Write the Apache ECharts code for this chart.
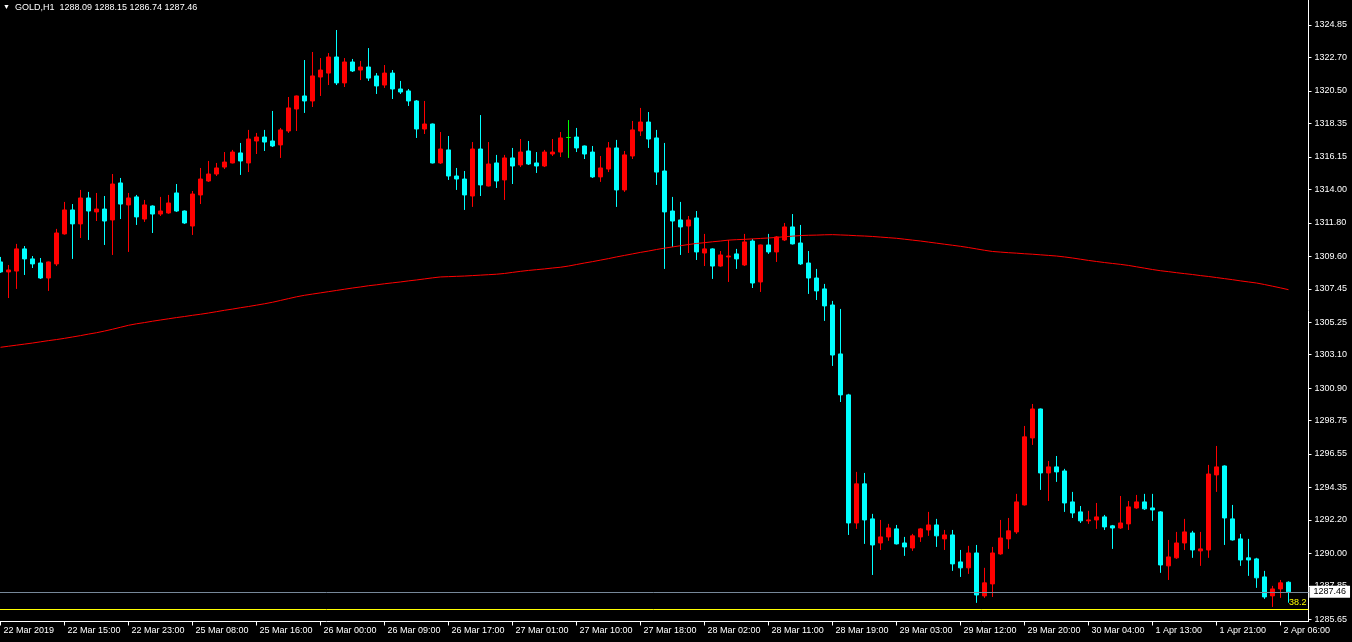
<!DOCTYPE html>
<html>
<head>
<meta charset="utf-8">
<script src="https://cdn.jsdelivr.net/npm/echarts@6/dist/echarts.min.js"></script>
<style>
html,body{margin:0;padding:0;background:#000;}
#chart{width:1352px;height:642px;}
</style>
</head>
<body>
<div id="chart"></div>
<script>
const symbolName = 'GOLD,H1';

const opens = [
1309.22,1308.56,1308.62,1310.08,1309.42,1309.15,1308.16,1309.09,1311.07,1312.65,
1311.73,1313.44,1312.52,1312.71,1311.99,1314.43,1312.98,1313.51,1312.05,1312.91,
1312.38,1312.45,1313.77,1312.58,1311.59,1313.64,1314.56,1315.02,1315.48,1315.75,
1316.41,1315.75,1317.20,1317.46,1317.20,1316.94,1317.86,1319.31,1320.17,1319.84,
1321.42,1321.68,1322.74,1321.03,1322.41,1321.88,1322.08,1321.49,1320.89,1321.68,
1320.63,1320.50,1319.84,1317.99,1318.32,1315.75,1316.61,1314.89,1314.69,1313.57,
1316.67,1314.23,1315.75,1314.63,1316.08,1315.62,1316.54,1315.75,1315.55,1316.34,
1316.47,1317.43,1317.46,1316.87,1316.47,1314.83,1315.35,1316.74,1313.97,1316.21,
1317.86,1318.45,1317.40,1315.22,1312.58,1311.99,1311.59,1312.12,1309.81,1310.08,
1308.95,1309.55,1309.75,1309.02,1310.60,1307.90,1310.34,1309.88,1310.67,1311.53,
1310.47,1309.15,1308.16,1307.44,1306.38,1303.15,1300.45,1292.00,1294.58,1292.27,
1290.68,1291.08,1291.61,1290.68,1290.35,1291.08,1291.54,1291.87,1290.95,1291.21,
1289.43,1289.04,1290.02,1287.19,1287.98,1289.96,1290.95,1291.41,1293.19,1297.61,
1299.52,1295.30,1295.70,1295.43,1293.39,1292.73,1292.14,1292.20,1292.40,1291.81,
1291.67,1291.94,1292.99,1293.39,1292.99,1292.73,1289.17,1289.70,1290.68,1291.34,
1290.16,1290.22,1295.17,1295.76,1292.27,1290.95,1289.70,1289.63,1288.44,1287.19,
1287.65,1288.09
];

const highs = [
1309.55,1309.02,1310.41,1310.27,1309.61,1309.48,1309.25,1311.40,1313.18,1313.04,
1313.97,1313.84,1313.77,1313.57,1315.02,1314.76,1313.77,1313.64,1313.31,1312.95,
1313.51,1313.64,1314.36,1312.62,1313.90,1315.42,1315.88,1315.75,1316.47,1316.61,
1317.07,1317.93,1317.73,1317.93,1319.18,1318.06,1320.10,1320.20,1322.54,1323.07,
1322.67,1323.00,1324.52,1322.67,1322.61,1322.48,1323.33,1321.68,1322.21,1321.88,
1321.16,1320.63,1319.90,1319.84,1318.35,1317.79,1317.53,1315.42,1315.22,1317.13,
1318.91,1317.13,1316.28,1316.28,1316.74,1317.33,1317.20,1316.47,1316.61,1317.33,
1317.79,1318.58,1318.06,1316.90,1316.87,1316.21,1317.13,1317.27,1316.54,1318.52,
1319.38,1319.11,1317.93,1317.07,1313.51,1313.18,1312.25,1312.58,1311.07,1310.12,
1309.94,1310.67,1310.08,1311.07,1310.74,1310.37,1311.07,1310.93,1311.79,1312.38,
1311.66,1309.94,1308.76,1307.77,1306.65,1306.12,1300.52,1295.37,1295.30,1292.60,
1292.20,1291.94,1291.87,1291.08,1291.28,1291.67,1292.73,1292.27,1291.54,1291.54,
1290.22,1290.49,1290.55,1289.04,1290.42,1292.20,1292.33,1293.92,1298.40,1299.85,
1299.55,1296.09,1296.42,1295.57,1294.05,1293.12,1292.80,1293.32,1292.53,1291.87,
1293.78,1293.45,1293.85,1293.92,1293.92,1292.78,1290.88,1291.41,1292.27,1291.48,
1291.41,1295.83,1297.08,1295.80,1293.19,1291.28,1290.95,1289.70,1288.84,1287.85,
1288.24,1288.15
];

const lows = [
1308.50,1306.84,1307.44,1308.36,1308.82,1308.10,1307.31,1308.95,1311.02,1309.42,
1310.80,1310.67,1311.92,1310.34,1309.68,1312.05,1309.88,1311.66,1311.86,1311.13,
1312.25,1312.40,1312.52,1311.73,1311.00,1313.04,1314.50,1314.89,1315.35,1315.72,
1314.96,1315.15,1316.34,1316.54,1316.80,1316.08,1317.73,1317.86,1319.05,1319.44,
1320.17,1320.89,1320.89,1320.76,1321.75,1321.22,1321.16,1320.30,1320.70,1319.97,
1320.30,1319.51,1317.40,1317.66,1315.72,1315.68,1314.63,1313.97,1312.65,1312.85,
1313.57,1314.20,1314.10,1313.31,1314.36,1315.48,1315.62,1315.09,1315.48,1316.21,
1316.14,1316.08,1316.47,1316.01,1314.76,1314.50,1315.15,1312.85,1313.84,1316.01,
1317.53,1316.74,1314.30,1308.76,1310.21,1309.68,1309.81,1309.35,1308.95,1308.10,
1308.90,1307.90,1308.76,1308.95,1307.50,1307.24,1309.75,1309.22,1310.60,1310.37,
1309.02,1307.11,1306.71,1305.33,1302.36,1299.98,1291.21,1291.61,1290.62,1288.57,
1290.22,1290.82,1290.58,1289.83,1290.16,1290.75,1291.15,1290.42,1290.22,1288.84,
1288.44,1288.64,1286.73,1287.06,1287.12,1289.90,1290.29,1291.28,1293.15,1297.15,
1294.18,1293.45,1294.71,1292.73,1292.33,1292.00,1291.94,1291.61,1291.54,1290.29,
1291.61,1291.54,1292.93,1292.86,1292.14,1288.71,1288.24,1289.63,1290.22,1289.70,
1289.17,1289.70,1294.05,1290.55,1290.84,1289.17,1288.51,1287.72,1286.99,1286.46,
1287.06,1286.74
];

const closes = [
1308.56,1308.69,1310.08,1309.42,1309.09,1308.16,1309.22,1311.13,1312.65,1311.73,
1313.44,1312.58,1312.71,1311.92,1314.36,1313.04,1313.44,1312.19,1312.98,1312.38,
1312.58,1313.11,1312.58,1311.79,1313.70,1314.69,1315.02,1315.42,1315.81,1316.47,
1315.88,1317.33,1317.46,1317.13,1316.87,1317.93,1319.38,1320.17,1319.84,1321.49,
1321.88,1322.74,1321.03,1322.41,1321.82,1322.08,1321.35,1320.83,1321.68,1320.63,
1320.43,1319.84,1317.99,1318.32,1315.75,1316.67,1314.89,1314.69,1313.64,1316.67,
1314.30,1315.68,1314.56,1316.08,1315.55,1316.47,1315.68,1315.55,1316.47,1316.47,
1317.40,1317.43,1316.74,1316.34,1314.83,1315.42,1316.74,1313.97,1316.28,1317.93,
1318.45,1317.33,1315.15,1312.52,1311.92,1311.53,1311.99,1309.88,1310.08,1308.95,
1309.68,1309.61,1309.42,1310.54,1307.83,1310.34,1309.88,1310.87,1311.53,1310.41,
1309.09,1308.16,1307.31,1306.32,1303.08,1300.45,1292.00,1294.58,1292.20,1290.55,
1291.08,1291.67,1290.62,1290.42,1291.15,1291.61,1291.87,1291.15,1291.21,1289.30,
1289.04,1290.02,1287.25,1288.05,1290.02,1291.01,1291.48,1293.39,1297.68,1299.52,
1295.30,1295.70,1295.37,1293.32,1292.66,1292.14,1292.20,1292.40,1291.74,1291.67,
1292.00,1293.06,1293.39,1292.93,1292.86,1289.23,1289.76,1290.68,1291.41,1290.22,
1290.29,1295.23,1295.70,1292.33,1290.88,1289.56,1289.56,1288.38,1287.12,1287.65,
1288.05,1287.46
];

const movingAverage = [
1303.59,1303.66,1303.73,1303.80,1303.87,1303.95,1304.03,1304.10,1304.18,1304.27,
1304.36,1304.46,1304.55,1304.66,1304.78,1304.91,1305.04,1305.14,1305.22,1305.31,
1305.39,1305.47,1305.55,1305.62,1305.70,1305.77,1305.85,1305.94,1306.03,1306.11,
1306.20,1306.28,1306.37,1306.46,1306.56,1306.68,1306.80,1306.92,1307.02,1307.10,
1307.18,1307.26,1307.34,1307.42,1307.50,1307.57,1307.65,1307.71,1307.78,1307.84,
1307.90,1307.97,1308.03,1308.10,1308.17,1308.23,1308.25,1308.27,1308.29,1308.32,
1308.35,1308.38,1308.41,1308.46,1308.53,1308.60,1308.66,1308.71,1308.76,1308.82,
1308.87,1308.95,1309.05,1309.15,1309.24,1309.34,1309.44,1309.55,1309.65,1309.75,
1309.85,1309.94,1310.04,1310.13,1310.21,1310.29,1310.37,1310.44,1310.49,1310.55,
1310.60,1310.66,1310.69,1310.71,1310.74,1310.77,1310.80,1310.84,1310.88,1310.92,
1310.96,1310.98,1310.99,1311.01,1311.02,1311.00,1310.98,1310.95,1310.93,1310.90,
1310.86,1310.82,1310.78,1310.72,1310.66,1310.60,1310.53,1310.46,1310.39,1310.32,
1310.25,1310.17,1310.08,1309.99,1309.91,1309.87,1309.83,1309.80,1309.76,1309.73,
1309.69,1309.65,1309.61,1309.55,1309.48,1309.40,1309.32,1309.25,1309.18,1309.12,
1309.06,1308.99,1308.90,1308.81,1308.72,1308.64,1308.58,1308.51,1308.45,1308.39,
1308.32,1308.26,1308.19,1308.12,1308.05,1307.97,1307.90,1307.83,1307.73,1307.62,
1307.51,1307.39
];

const timeTickLabels = [
'22 Mar 2019','22 Mar 15:00','22 Mar 23:00','25 Mar 08:00','25 Mar 16:00',
'26 Mar 00:00','26 Mar 09:00','26 Mar 17:00','27 Mar 01:00','27 Mar 10:00',
'27 Mar 18:00','28 Mar 02:00','28 Mar 11:00','28 Mar 19:00','29 Mar 03:00',
'29 Mar 12:00','29 Mar 20:00','30 Mar 04:00','1 Apr 13:00','1 Apr 21:00',
'2 Apr 06:00'
];
const barsPerTimeLabel = 8;

const priceTickLabels = [
1285.65,1287.85,1290.00,1292.20,1294.35,1296.55,1298.75,1300.90,1303.10,1305.25,
1307.45,1309.60,1311.80,1314.00,1316.15,1318.35,1320.50,1322.70,1324.85
];

const fiboLevel = 1286.33;
const fiboLabel = '38.2';
const emptyBarsRight = 2;

// ---------- build ----------
const n = opens.length;
const categories = [];
for (let i = 0; i < n + emptyBarsRight; i++) categories.push(String(i));

const candleData = opens.map((o, i) => {
  const item = { value: [o, closes[i], lows[i], highs[i]] };
  if (o === closes[i]) {
    item.itemStyle = { color: '#00ff00', color0: '#00ff00', borderColor: '#00ff00', borderColor0: '#00ff00' };
  }
  return item;
});

const last = n - 1;
const headerText = symbolName + '  ' + opens[last].toFixed(2) + ' ' + highs[last].toFixed(2) + ' ' +
  lows[last].toFixed(2) + ' ' + closes[last].toFixed(2);

const FONT = 'Liberation Sans, Arial, sans-serif';
const labelInterval = (idx) => idx % barsPerTimeLabel === 0 && (idx / barsPerTimeLabel) < timeTickLabels.length;

const chart = echarts.init(document.getElementById('chart'), null, { renderer: 'canvas' });
chart.setOption({
  backgroundColor: '#000000',
  animation: false,
  grid: { left: -3.5, right: 43.5, top: 0, bottom: 20.5, containLabel: false, outerBoundsMode: 'none' },
  xAxis: {
    type: 'category',
    data: categories,
    boundaryGap: true,
    axisLine: { show: true, lineStyle: { color: '#ffffff', width: 1 } },
    axisTick: { show: true, alignWithLabel: true, interval: labelInterval, length: 4, lineStyle: { color: '#ffffff' } },
    axisLabel: {
      show: true,
      interval: labelInterval,
      formatter: (v, idx) => timeTickLabels[idx / barsPerTimeLabel] || '',
      align: 'left',
      padding: [0, 0, 0, 3],
      margin: 4,
      color: '#ffffff',
      fontFamily: FONT,
      fontSize: 9,
      lineHeight: 11
    },
    splitLine: { show: false }
  },
  yAxis: {
    type: 'value',
    position: 'right',
    min: 1285.50,
    max: 1326.50,
    scale: true,
    axisLine: { show: true, lineStyle: { color: '#ffffff', width: 1 } },
    axisTick: { show: true, customValues: priceTickLabels, length: 3, lineStyle: { color: '#ffffff' } },
    axisLabel: {
      show: true,
      customValues: priceTickLabels,
      formatter: (v) => Number(v).toFixed(2),
      margin: 6,
      color: '#ffffff',
      fontFamily: FONT,
      fontSize: 9
    },
    splitLine: { show: false }
  },
  graphic: [
    { type: 'text', left: 3, top: 4, z: 100, style: { text: '▼', fill: '#ffffff', font: '7px ' + FONT } },
    { type: 'text', left: 15, top: 3, z: 100, style: { text: headerText, fill: '#ffffff', font: '9px ' + FONT } }
  ],
  series: [
    {
      type: 'candlestick',
      data: candleData,
      barWidth: 4,
      z: 2,
      itemStyle: {
        color: '#ff0000',
        color0: '#00ffff',
        borderColor: '#ff0000',
        borderColor0: '#00ffff',
        borderWidth: 1
      },
      markLine: {
        silent: true,
        symbol: ['none', 'none'],
        animation: false,
        data: [
          {
            yAxis: closes[last],
            lineStyle: { color: '#778899', width: 1, type: 'solid' },
            label: {
              show: true,
              position: 'end',
              distance: 1,
              formatter: closes[last].toFixed(2),
              color: '#000000',
              backgroundColor: '#ffffff',
              padding: [2, 4, 1, 4],
              fontFamily: FONT,
              fontSize: 9
            }
          },
          {
            yAxis: fiboLevel,
            lineStyle: { color: '#ffff00', width: 1, type: 'solid' },
            label: {
              show: true,
              position: 'insideEndTop',
              distance: 2,
              formatter: fiboLabel,
              color: '#ffff00',
              fontFamily: FONT,
              fontSize: 9
            }
          }
        ]
      }
    },
    {
      type: 'line',
      data: movingAverage,
      showSymbol: false,
      symbol: 'none',
      smooth: false,
      z: 3,
      lineStyle: { color: '#ff0000', width: 1 },
      silent: true
    }
  ]
});
</script>
</body>
</html>
